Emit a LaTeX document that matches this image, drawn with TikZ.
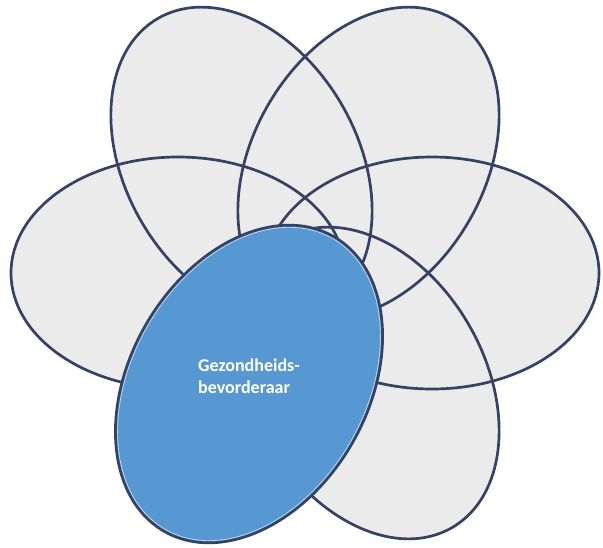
\documentclass[tikz,border=0pt]{standalone}
\usepackage{fontspec}
\setmainfont{Carlito}
\definecolor{petalgray}{HTML}{EBEBEB}
\definecolor{rimnavy}{HTML}{364263}
\definecolor{coreblue}{HTML}{5798D2}
\begin{document}
\begin{tikzpicture}[x=1pt,y=-1pt,
  petalfill/.style={fill=petalgray},
  petalrim/.style={draw=rimnavy, line width=2.7pt},
  corefill/.style={fill=coreblue, draw=rimnavy, line width=2.7pt},
  coreglow/.style={draw=white, draw opacity=0.65, line width=0.7pt},
  corelabel/.style={text=white, font=\fontsize{18}{21.5}\selectfont\bfseries, align=left, inner sep=0pt}
]
\useasboundingbox (0,0) rectangle (603,547);

% centres of the five grey petals and the blue core petal
\coordinate (pL)  at (178,273);
\coordinate (pR)  at (432,273);
\coordinate (pTL) at (241.5,163);
\coordinate (pTR) at (368.5,163);
\coordinate (pBR) at (368.5,383);
\coordinate (pB)  at (249,384);

% grey fills first, so that every rim stays visible
\foreach \c/\r in {pL/0, pR/0, pTL/-60, pTR/60, pBR/-60}
  \fill[petalfill, rotate around={\r:(\c)}] (\c) ellipse [x radius=167pt, y radius=116pt];

% rims of the grey petals
\foreach \c/\r in {pL/0, pR/0, pTL/-60, pTR/60, pBR/-60}
  \draw[petalrim, rotate around={\r:(\c)}] (\c) ellipse [x radius=167pt, y radius=116pt];

% blue core petal on top
\draw[corefill, rotate around={60:(pB)}] (pB) ellipse [x radius=170pt, y radius=119pt];
\draw[coreglow, rotate around={60:(pB)}] (pB) ellipse [x radius=167.8pt, y radius=116.8pt];

\node[corelabel, anchor=north west] (core) at (198,359) {Gezondheids-\\bevorderaar};
\end{tikzpicture}
\end{document}
